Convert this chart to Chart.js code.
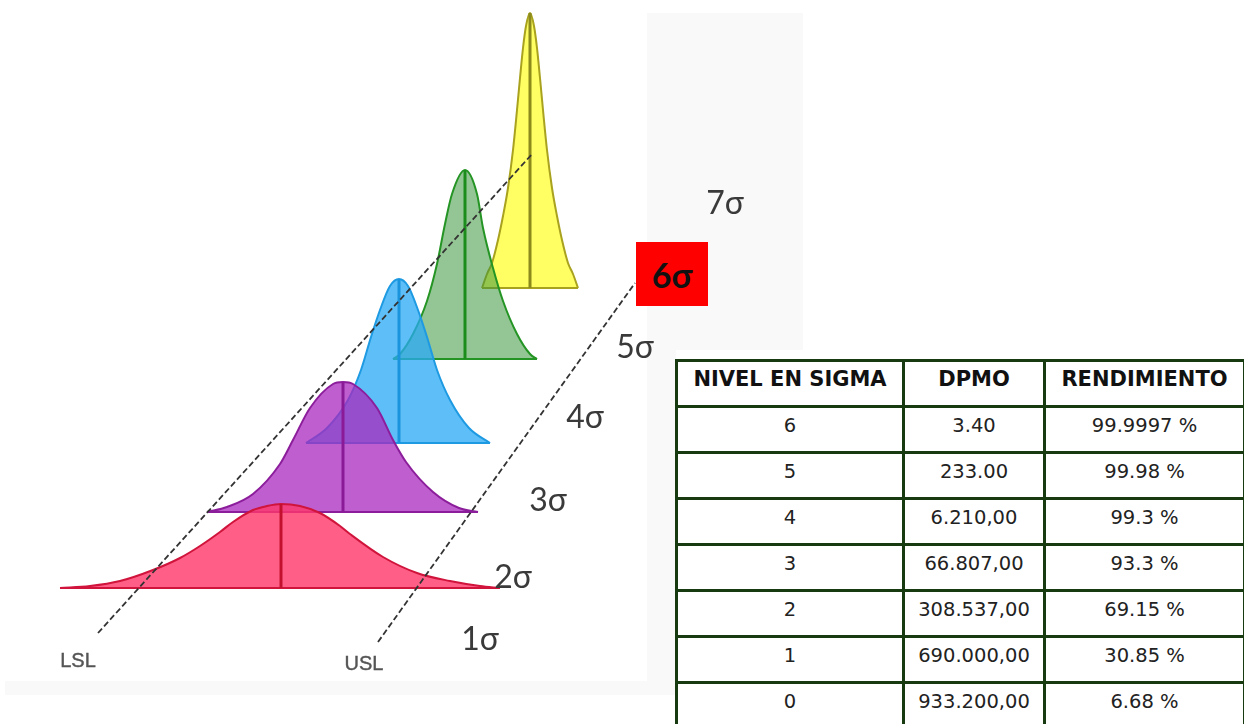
<!DOCTYPE html>
<html>
<head>
<meta charset="utf-8">
<script src="https://cdn.jsdelivr.net/npm/chart.js@4/dist/chart.umd.min.js"></script>
<style>
  html, body { margin: 0; padding: 0; background: #ffffff; }
  body { width: 1244px; height: 724px; overflow: hidden; position: relative; }
  .panel { position: absolute; background: #f9f9f9; }
  #plot { position: absolute; left: 0; top: 0; }
  .sig { position: absolute; font-family: Lato, "Open Sans", sans-serif; font-size: 32px; line-height: 1;
         color: #3a3a3a; white-space: nowrap; transform: translate(-50%, -50%); }
  .spec { position: absolute; font-family: "Liberation Sans", Arial, sans-serif; font-size: 20px; line-height: 1;
          color: #555555; white-space: nowrap; transform: translate(-50%, -50%); -webkit-text-stroke: 0.4px #555555; }
  #six { position: absolute; left: 636px; top: 242px; width: 72px; height: 64px; background: #ff0000;
         display: flex; align-items: center; justify-content: center;
         font-family: Lato, sans-serif; font-weight: 700; font-size: 34px; color: #111; }
  #tbl { position: absolute; left: 675px; top: 359px; width: 568px; border-collapse: collapse; table-layout: fixed;
         background: #ffffff; }
  #tbl th, #tbl td { border: 3px solid #173a10; text-align: center; vertical-align: middle;
         padding: 0 0 9px 0; height: 34px; font-family: "DejaVu Sans", Verdana, sans-serif; }
  #tbl th { font-size: 21px; font-weight: 700; color: #111; }
  #tbl td { font-size: 19.5px; font-weight: 400; color: #222; }
</style>
</head>
<body>
<div class="panel" style="left:647px;top:13px;width:156px;height:337px;"></div>
<div class="panel" style="left:647px;top:350px;width:29px;height:345px;"></div>
<div class="panel" style="left:5px;top:681px;width:642px;height:14px;"></div>

<canvas id="plot" width="1244" height="724"></canvas>

<div class="spec" style="left:78px;top:660px;">LSL</div>
<div class="spec" style="left:364px;top:663px;">USL</div>
<div id="sigmaLabels"></div>
<div id="six">6σ</div>

<table id="tbl">
  <colgroup><col style="width:227px"><col style="width:141px"><col style="width:200px"></colgroup>
  <thead><tr id="headRow"></tr></thead>
  <tbody id="tblBody"></tbody>
</table>

<script>
// ---- sigma table ----
const tableHeaders = ['NIVEL EN SIGMA', 'DPMO', 'RENDIMIENTO'];
const sigmaLevels = ['6', '5', '4', '3', '2', '1', '0'];
const dpmoValues = ['3.40', '233.00', '6.210,00', '66.807,00', '308.537,00', '690.000,00', '933.200,00'];
const yieldValues = ['99.9997 %', '99.98 %', '99.3 %', '93.3 %', '69.15 %', '30.85 %', '6.68 %'];

// ---- sigma scale labels along the USL line (6σ is the highlighted box) ----
const sigmaScaleLabels = ['1σ', '2σ', '3σ', '4σ', '5σ', '7σ'];
const sigmaScaleLeft = [480, 513, 548, 585, 635, 725];
const sigmaScaleTop = [638, 576, 499, 416, 346, 202];

// ---- bell curves in the drawing plane (x right, y up), nearest first ----
const curveCenters = [281, 343, 399, 465, 530];
const curveBases   = [136, 212, 281, 365, 436];

const redOffsets    = [-221, -191, -161, -128, -101, -81, -61, -48, -28, -14, 0, 19, 39, 59, 69, 102, 136, 169, 199, 219];
const redHeights    = [0, 2, 7, 18, 30, 42, 56, 66, 78, 82, 84, 82, 75, 62, 54, 31, 15, 7, 2, 0];
const purpleOffsets = [-136, -116, -90, -63, -50, -33, -10, 0, 10, 34, 50, 63, 90, 116, 135];
const purpleHeights = [0, 5, 18, 48, 72, 104, 128, 130, 128, 104, 72, 50, 20, 4, 0];
const blueOffsets   = [-93, -72, -51, -38, -28, -19, -9, 0, 9, 19, 28, 38, 51, 70, 91];
const blueHeights   = [0, 15, 43, 73, 106, 133, 157, 164, 157, 133, 106, 73, 43, 15, 0];
const greenOffsets  = [-72, -65, -52, -38, -28, -20, -13, 0, 12, 18, 28, 38, 52, 65, 72];
const greenHeights  = [0, 5, 25, 58, 95, 135, 165, 189, 165, 131, 91, 58, 25, 5, 0];
const yellowOffsets = [-48, -43, -38, -32, -27, -22, -17, -13, -10, -7, -4, 0, 4, 7, 10, 13, 17, 22, 27, 32, 38, 43, 48];
const yellowHeights = [0, 14, 25, 48, 72, 100, 138, 178, 210, 240, 262, 275, 262, 240, 210, 178, 138, 100, 72, 48, 25, 14, 0];

// ---- specification limit guides ----
const lslX = [98, 533];
const lslY = [91, 571];
const uslX = [378, 635];
const uslY = [82, 441];

// ---- build the table ----
const headRow = document.getElementById('headRow');
tableHeaders.forEach(h => { const th = document.createElement('th'); th.textContent = h; headRow.appendChild(th); });
const body = document.getElementById('tblBody');
sigmaLevels.forEach((lv, i) => {
  const tr = document.createElement('tr');
  [lv, dpmoValues[i], yieldValues[i]].forEach(v => { const td = document.createElement('td'); td.textContent = v; tr.appendChild(td); });
  body.appendChild(tr);
});

// ---- scale labels ----
const labelHost = document.getElementById('sigmaLabels');
sigmaScaleLabels.forEach((t, i) => {
  const d = document.createElement('div');
  d.className = 'sig';
  d.style.left = sigmaScaleLeft[i] + 'px';
  d.style.top = sigmaScaleTop[i] + 'px';
  d.textContent = t;
  labelHost.appendChild(d);
});

// ---- chart ----
const curveStyles = [
  { fill: 'rgba(255, 55, 105, 0.8)',  line: '#d0143c', stem: '#c4102f' },
  { fill: 'rgba(170, 40, 190, 0.75)', line: '#8c1e9c', stem: '#8a1a98' },
  { fill: 'rgba(40, 170, 245, 0.75)', line: '#1e9ae2', stem: '#1a94dc' },
  { fill: 'rgba(60, 150, 60, 0.55)',  line: '#249424', stem: '#1c8c1c' },
  { fill: 'rgba(255, 255, 60, 0.8)',  line: '#a8a21e', stem: '#8c8a1c' }
];
const curveOffsets = [redOffsets, purpleOffsets, blueOffsets, greenOffsets, yellowOffsets];
const curveHeights = [redHeights, purpleHeights, blueHeights, greenHeights, yellowHeights];

const datasets = [];
curveOffsets.forEach((offs, k) => {
  const cx = curveCenters[k], base = curveBases[k], st = curveStyles[k];
  const hts = curveHeights[k];
  const orderBase = 10 * (k + 1);
  datasets.push({
    data: offs.map((o, i) => ({ x: cx + o, y: base + hts[i] })),
    borderColor: st.line, borderWidth: 2, backgroundColor: st.fill,
    fill: { value: base }, cubicInterpolationMode: 'monotone', pointRadius: 0, order: orderBase + 2
  });
  datasets.push({
    data: [{ x: cx + offs[0], y: base }, { x: cx + offs[offs.length - 1], y: base }],
    borderColor: st.line, borderWidth: 2, fill: false, pointRadius: 0, tension: 0, order: orderBase + 1
  });
  datasets.push({
    data: [{ x: cx, y: base }, { x: cx, y: base + Math.max(...hts) }],
    borderColor: st.stem, borderWidth: 3, fill: false, pointRadius: 0, tension: 0, order: orderBase
  });
});
datasets.push({
  data: lslX.map((x, i) => ({ x, y: lslY[i] })),
  borderColor: '#333333', borderWidth: 1.8, borderDash: [6, 3], fill: false, pointRadius: 0, tension: 0, order: 0
});
datasets.push({
  data: uslX.map((x, i) => ({ x, y: uslY[i] })),
  borderColor: '#333333', borderWidth: 1.8, borderDash: [6, 3], fill: false, pointRadius: 0, tension: 0, order: 0
});

new Chart(document.getElementById('plot'), {
  type: 'line',
  data: { datasets },
  options: {
    responsive: false,
    animation: false,
    devicePixelRatio: 1,
    events: [],
    layout: { padding: 0 },
    plugins: { legend: { display: false }, tooltip: { enabled: false } },
    scales: {
      x: { type: 'linear', min: 0, max: 1244, display: false },
      y: { type: 'linear', min: 0, max: 724, display: false }
    },
    elements: { point: { radius: 0 } }
  }
});
</script>
</body>
</html>
